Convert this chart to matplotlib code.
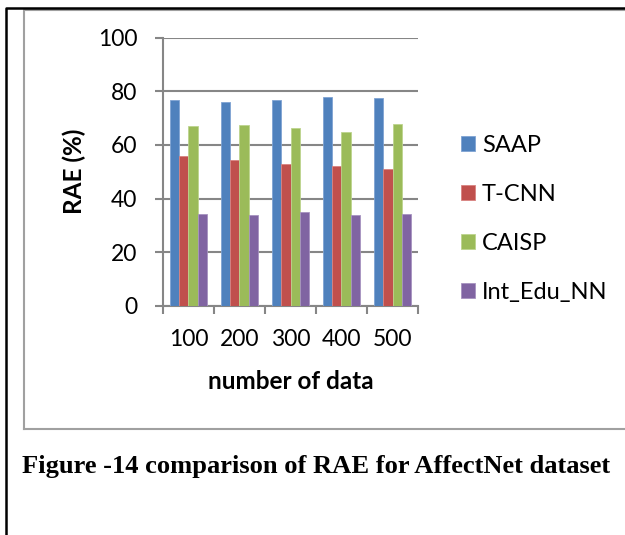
import numpy as np
import matplotlib
matplotlib.use("Agg")
import matplotlib.pyplot as plt
from matplotlib.lines import Line2D

# RAE (%) per method and data size
n_data = ["100", "200", "300", "400", "500"]
saap = [76.9, 76.0, 76.8, 78.0, 77.4]
t_cnn = [55.9, 54.2, 53.0, 52.1, 51.0]
caisp = [67.0, 67.4, 66.3, 64.9, 67.9]
int_edu_nn = [34.1, 34.0, 35.1, 34.0, 34.1]

series = [("SAAP", saap, "#4F81BD", "#7FA3D3"),
          ("T-CNN", t_cnn, "#C0504D", "#D98380"),
          ("CAISP", caisp, "#9BBB59", "#BDD48E"),
          ("Int_Edu_NN", int_edu_nn, "#8064A2", "#A793C0")]

W, H = 625, 535
plt.rcParams["font.family"] = ["Lato", "DejaVu Sans"]

fig = plt.figure(figsize=(W / 100, H / 100), dpi=100)


def fx(px):
    return px / W


def fy(py):
    return 1 - py / H


ax = fig.add_axes([fx(163), fy(306), fx(418) - fx(163), fy(37.5) - fy(306)])

x = np.arange(1, len(n_data) + 1)
w = 0.181
for i, (name, vals, col, edge) in enumerate(series):
    ax.bar(x + (i - 1.5) * w, vals, w, color=col, edgecolor=edge,
           linewidth=0.6, label=name, zorder=3)

grid_col = "#868686"
ax.set_xlim(0.5, 5.5)
ax.set_ylim(0, 100)
ax.set_yticks(np.arange(0, 101, 20))
ax.yaxis.grid(True, color=grid_col, linewidth=1.5, zorder=0)
ax.set_axisbelow(True)

# boundaries carry the tick marks, centres carry the labels
ax.set_xticks(np.arange(0.5, 5.6, 1.0))
ax.set_xticklabels([])
ax.set_xticks(x, minor=True)
ax.set_xticklabels(n_data, minor=True, fontsize=16.5)
ax.tick_params(axis="x", which="major", length=5.5, width=1.5, color=grid_col,
               direction="out")
ax.tick_params(axis="x", which="minor", length=0, pad=16.5)
ax.tick_params(axis="y", length=5.5, width=1.5, color=grid_col, labelsize=16.5,
               pad=13)

for side in ["top", "right"]:
    ax.spines[side].set_visible(False)
for side in ["left", "bottom"]:
    ax.spines[side].set_color(grid_col)
    ax.spines[side].set_linewidth(1.5)

fig.text(fx(74), fy(171.5), "RAE (%)", rotation=90, ha="center", va="center",
         fontsize=17.5, fontweight="bold")
fig.text(fx(290.5), fy(389), "number of data", ha="center", va="baseline",
         fontsize=17.5, fontweight="bold")

ax.legend(loc="center left", bbox_to_anchor=(fx(461), fy(219)),
          bbox_transform=fig.transFigure, frameon=False, fontsize=17,
          handlelength=0.59, handleheight=0.59, handletextpad=0.3,
          labelspacing=1.19, borderpad=0, borderaxespad=0)

# chart frame and page border
fig.add_artist(Line2D([fx(23.5), fx(23.5), fx(W)], [fy(429), fy(10), fy(10)],
                      color="#A0A0A0", linewidth=1.5, transform=fig.transFigure))
fig.add_artist(Line2D([fx(23.5), fx(W)], [fy(429), fy(429)],
                      color="#A0A0A0", linewidth=1.5, transform=fig.transFigure))
fig.add_artist(Line2D([fx(5.5), fx(5.5), fx(W)], [fy(H), fy(8), fy(8)],
                      color="black", linewidth=1.8, transform=fig.transFigure))

fig.text(fx(22), fy(473), "Figure -14 comparison of RAE for AffectNet dataset",
         family="Liberation Serif", fontweight="bold", fontsize=19.05,
         ha="left", va="baseline")

fig.savefig("out.png", dpi=100)
